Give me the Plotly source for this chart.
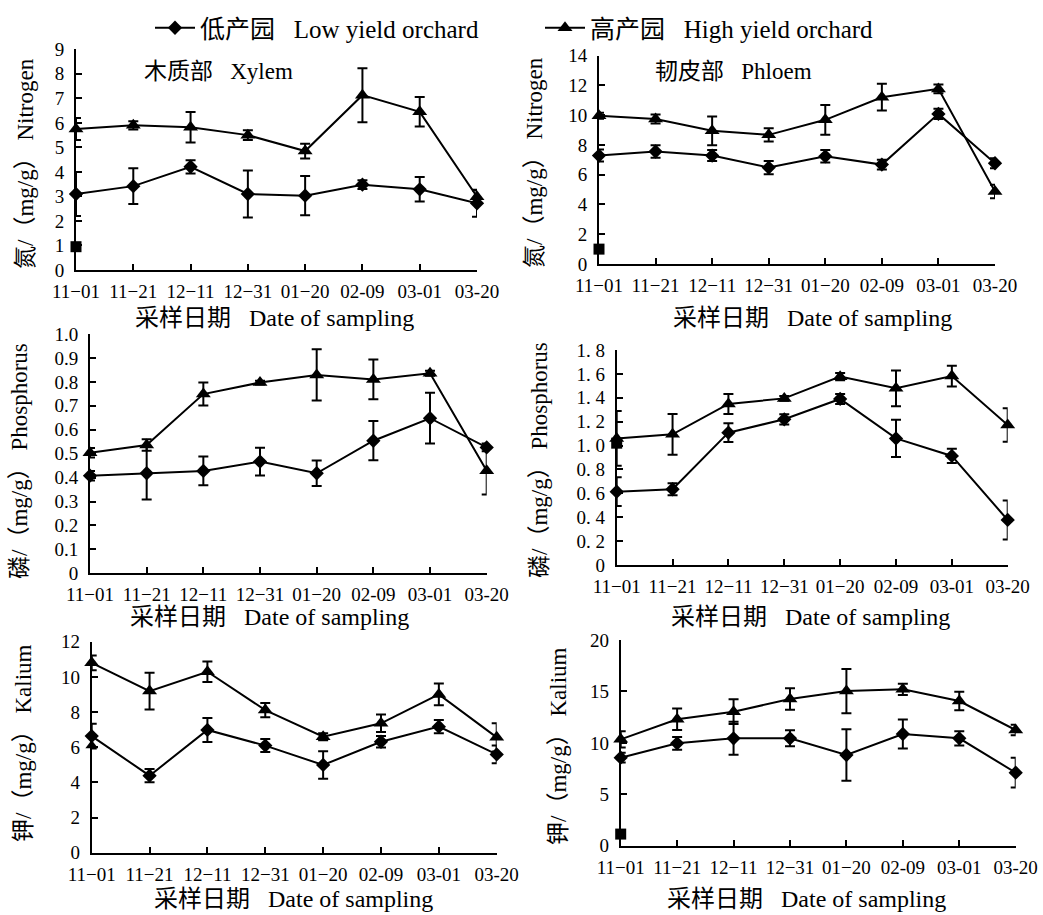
import plotly.graph_objects as go

# ---------------- data ----------------
dates = ["11−01", "11−21", "12−11", "12−31", "01−20", "02-09", "03-01", "03-20"]

n_xylem_low = [3.10, 3.42, 4.21, 3.10, 3.03, 3.48, 3.29, 2.72]
n_xylem_low_err = [0.90, 0.73, 0.27, 0.96, 0.80, 0.18, 0.50, 0.55]
n_xylem_high = [5.75, 5.90, 5.82, 5.50, 4.85, 7.13, 6.45, 2.99]
n_xylem_high_err = [0.45, 0.17, 0.62, 0.20, 0.30, 1.10, 0.60, 0.25]

n_phloem_low = [7.29, 7.56, 7.29, 6.48, 7.24, 6.68, 10.09, 6.77]
n_phloem_low_err = [0.40, 0.42, 0.37, 0.45, 0.42, 0.33, 0.34, 0.33]
n_phloem_high = [9.96, 9.75, 8.95, 8.68, 9.69, 11.21, 11.77, 4.87]
n_phloem_high_err = [0.20, 0.30, 0.97, 0.45, 1.00, 0.90, 0.30, 0.45]

p_xylem_low = [0.408, 0.418, 0.428, 0.467, 0.418, 0.554, 0.648, 0.526]
p_xylem_low_err = [0.02, 0.11, 0.06, 0.058, 0.053, 0.082, 0.106, 0.016]
p_xylem_high = [0.504, 0.536, 0.749, 0.797, 0.829, 0.810, 0.836, 0.429]
p_xylem_high_err = [0.02, 0.024, 0.048, 0.008, 0.107, 0.083, 0.010, 0.10]

p_phloem_low = [0.614, 0.634, 1.108, 1.220, 1.390, 1.060, 0.913, 0.377]
p_phloem_low_err = [0.12, 0.05, 0.078, 0.043, 0.042, 0.156, 0.06, 0.163]
p_phloem_high = [1.060, 1.094, 1.348, 1.395, 1.577, 1.479, 1.582, 1.172]
p_phloem_high_err = [0.23, 0.17, 0.083, 0.02, 0.03, 0.15, 0.087, 0.14]

k_xylem_low = [6.63, 4.38, 6.98, 6.09, 4.99, 6.31, 7.17, 5.59]
k_xylem_low_err = [0.70, 0.38, 0.68, 0.37, 0.78, 0.32, 0.37, 0.50]
k_xylem_high = [10.80, 9.19, 10.29, 8.11, 6.60, 7.36, 9.00, 6.56]
k_xylem_high_err = [0.42, 1.05, 0.58, 0.41, 0.20, 0.50, 0.62, 0.80]

k_phloem_low = [8.56, 9.95, 10.44, 10.44, 8.82, 10.86, 10.44, 7.10]
k_phloem_low_err = [0.48, 0.62, 1.60, 0.78, 2.50, 1.40, 0.70, 1.45]
k_phloem_high = [10.34, 12.29, 13.03, 14.26, 15.04, 15.20, 14.07, 11.25]
k_phloem_high_err = [0.80, 1.05, 1.20, 1.05, 2.15, 0.55, 0.90, 0.50]

# stray marks at the first date, as seen in the picture
stray_values = [0.95, 1.0, None, 1.02, 6.1, 1.13]
stray_symbols = ["square", "square", "square", "square", "triangle-up", "square"]

y_titles = ["氮/（mg/g） Nitrogen", "氮/（mg/g） Nitrogen",
            "磷/（mg/g） Phosphorus", "磷/（mg/g） Phosphorus",
            "钾/（mg/g） Kalium", "钾/（mg/g） Kalium"]
x_title = "采样日期   Date of sampling"
panel_labels = ["木质部   Xylem", "韧皮部   Phloem"]
legend_low = "低产园   Low yield orchard"
legend_high = "高产园   High yield orchard"

ticks_n1 = [0, 1, 2, 3, 4, 5, 6, 7, 8, 9]
ticks_n2 = [0, 2, 4, 6, 8, 10, 12, 14]
ticks_p1 = [0, 0.1, 0.2, 0.3, 0.4, 0.5, 0.6, 0.7, 0.8, 0.9, 1.0]
ticks_p1_text = ["0", "0.1", "0.2", "0.3", "0.4", "0.5", "0.6", "0.7", "0.8", "0.9", "1.0"]
ticks_p2 = [0, 0.2, 0.4, 0.6, 0.8, 1.0, 1.2, 1.4, 1.6, 1.8]
ticks_p2_text = ["0", "0. 2", "0. 4", "0. 6", "0. 8", "1. 0", "1. 2", "1. 4", "1. 6", "1. 8"]
ticks_k1 = [0, 2, 4, 6, 8, 10, 12]
ticks_k2 = [0, 5, 10, 15, 20]

# ---------------- layout geometry (pixels) ----------------
W, H = 1043, 915
panels = [
    # x0, x1, y_bottom, y_top, ymax, tickvals, ticktext
    (76, 477, 270, 49.3, 9, ticks_n1, [str(t) for t in ticks_n1]),
    (599, 995, 264, 55.7, 14, ticks_n2, [str(t) for t in ticks_n2]),
    (90, 486.7, 573.3, 334, 1.0, ticks_p1, ticks_p1_text),
    (616.7, 1007.7, 565, 350, 1.8, ticks_p2, ticks_p2_text),
    (91.7, 496.7, 852.7, 641.7, 12, ticks_k1, [str(t) for t in ticks_k1]),
    (620.7, 1015.7, 845.7, 640, 20, ticks_k2, [str(t) for t in ticks_k2]),
]
series = [
    (n_xylem_low, n_xylem_low_err, n_xylem_high, n_xylem_high_err),
    (n_phloem_low, n_phloem_low_err, n_phloem_high, n_phloem_high_err),
    (p_xylem_low, p_xylem_low_err, p_xylem_high, p_xylem_high_err),
    (p_phloem_low, p_phloem_low_err, p_phloem_high, p_phloem_high_err),
    (k_xylem_low, k_xylem_low_err, k_xylem_high, k_xylem_high_err),
    (k_phloem_low, k_phloem_low_err, k_phloem_high, k_phloem_high_err),
]
ytitle_pos = [(25, 164), (535, 163), (19, 461), (539, 460), (23, 743), (558, 746)]
xtitle_pos = [(274, 318), (812, 318), (269, 617), (810, 617), (293, 899), (806, 899)]
label_pos = [(218, 71), (733, 71)]

FONT = "Liberation Serif, 'Noto Sans CJK SC', serif"
fig = go.Figure()

for i, (pan, ser) in enumerate(zip(panels, series)):
    n = "" if i == 0 else str(i + 1)
    xa, ya = "x" + n, "y" + n
    low, low_e, high, high_e = ser
    err_style = dict(thickness=2, width=5, color="black")
    fig.add_trace(go.Scatter(
        x=dates, y=low, xaxis=xa, yaxis=ya, mode="lines+markers",
        name=legend_low, showlegend=(i == 0), legendrank=1,
        line=dict(color="black", width=2),
        marker=dict(symbol="diamond", size=11, color="black"),
        error_y=dict(type="data", array=low_e, visible=True, **err_style),
        cliponaxis=False))
    fig.add_trace(go.Scatter(
        x=dates, y=high, xaxis=xa, yaxis=ya, mode="lines+markers",
        name=legend_high, showlegend=(i == 0), legendrank=2,
        line=dict(color="black", width=2),
        marker=dict(symbol="triangle-up", size=13, color="black"),
        error_y=dict(type="data", array=high_e, visible=True, **err_style),
        cliponaxis=False))
    if stray_values[i] is not None:
        fig.add_trace(go.Scatter(
            x=[dates[0]], y=[stray_values[i]], xaxis=xa, yaxis=ya, mode="markers",
            showlegend=False, marker=dict(symbol=stray_symbols[i], size=11, color="black"),
            cliponaxis=False, hoverinfo="skip"))

    x0, x1, yb, yt, ymax, tv, tt = pan
    axis_common = dict(showline=True, linecolor="black", linewidth=2, showgrid=False,
                       zeroline=False, ticks="inside", tickcolor="black", tickwidth=2,
                       ticklen=6, automargin=False,
                       tickfont=dict(family=FONT, size=19, color="black"))
    fig.layout["xaxis" + n] = dict(
        domain=[x0 / W, x1 / W], anchor=ya, type="category",
        range=[0, len(dates) - 1], ticklabelstandoff=3, **axis_common)
    fig.layout["yaxis" + n] = dict(
        domain=[1 - yb / H, 1 - yt / H], anchor=xa, range=[0, ymax],
        tickvals=tv, ticktext=tt, ticklabelstandoff=6, **axis_common)

    tx, ty = ytitle_pos[i]
    fig.add_annotation(x=tx / W, y=1 - ty / H, xref="paper", yref="paper",
                       xanchor="center", yanchor="middle",
                       text=y_titles[i], textangle=-90, showarrow=False,
                       font=dict(family=FONT, size=23, color="black"))
    tx, ty = xtitle_pos[i]
    fig.add_annotation(x=tx / W, y=1 - ty / H, xref="paper", yref="paper",
                       xanchor="center", yanchor="middle",
                       text=x_title, showarrow=False,
                       font=dict(family=FONT, size=24, color="black"))

for j, (lx, ly) in enumerate(label_pos):
    fig.add_annotation(x=lx / W, y=1 - ly / H, xref="paper", yref="paper",
                       xanchor="center", yanchor="middle",
                       text=panel_labels[j], showarrow=False,
                       font=dict(family=FONT, size=23, color="black"))

fig.update_layout(
    template="none",
    width=W, height=H, margin=dict(l=0, r=0, t=0, b=0, autoexpand=False),
    paper_bgcolor="white", plot_bgcolor="white",
    showlegend=True,
    legend=dict(orientation="h", x=150 / W, xanchor="left", y=1 - 5 / H, yanchor="top",
                font=dict(family=FONT, size=25, color="black"),
                bgcolor="rgba(0,0,0,0)", entrywidth=335, entrywidthmode="pixels",
                itemwidth=40, tracegroupgap=0),
)

fig.write_html("out.html")
